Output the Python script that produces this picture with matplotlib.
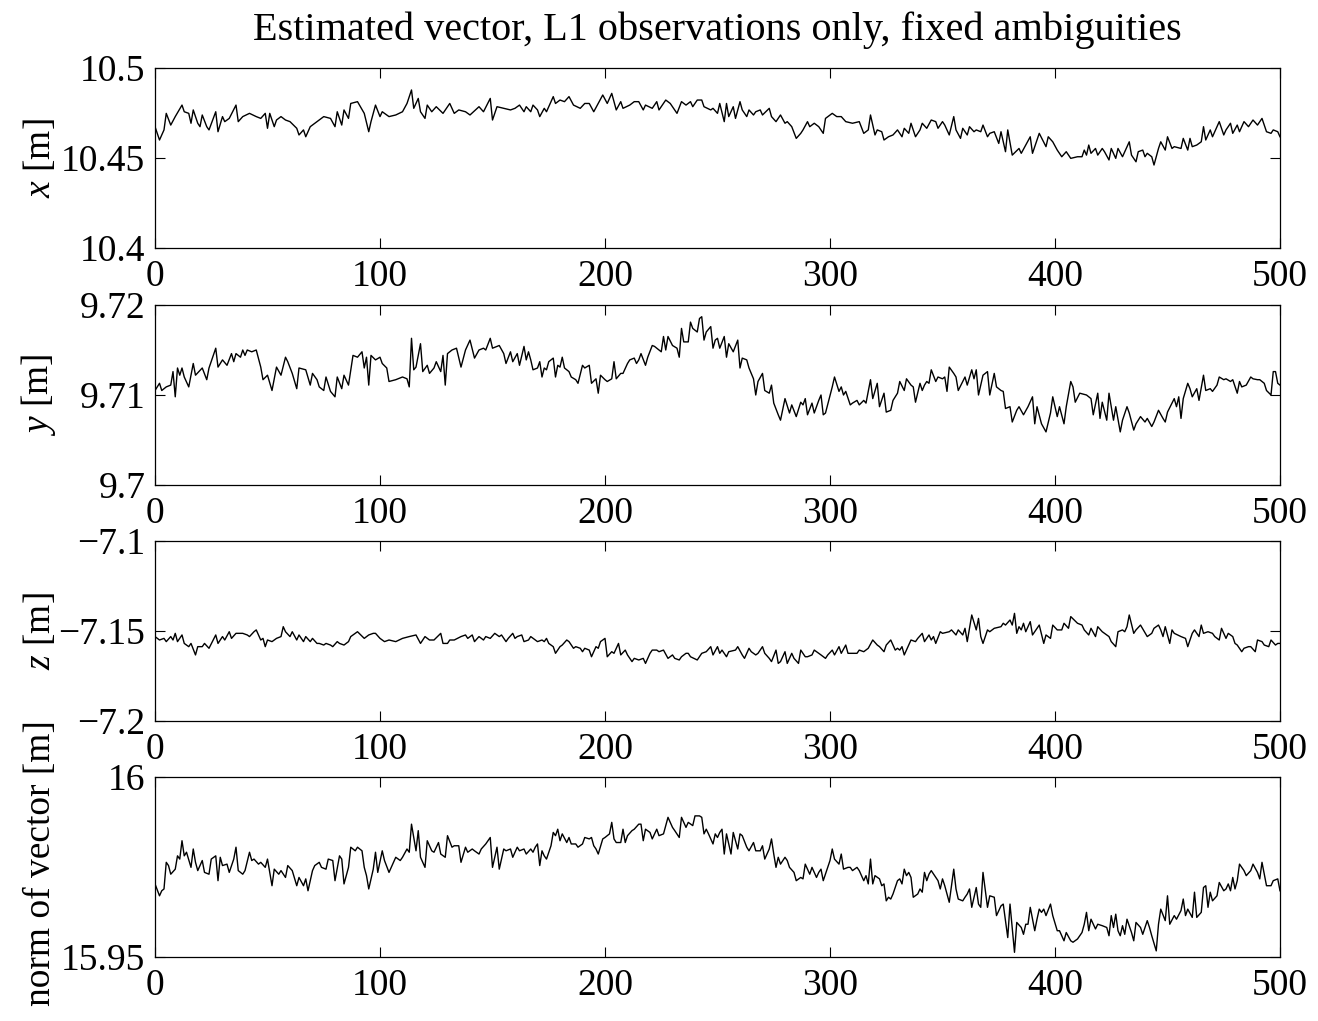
import matplotlib
matplotlib.use("Agg")
import matplotlib.pyplot as plt

# ---------------- data (epoch, value) ----------------
x_pts = [
    (0, 10.4674), (2, 10.4600), (4, 10.4656), (5, 10.4748), (7, 10.4683), (9, 10.4730), (12, 10.4794), (13, 10.4757),
    (15, 10.4748), (16, 10.4693), (17, 10.4767), (19, 10.4693), (20, 10.4674), (21, 10.4739), (23, 10.4674), (24, 10.4656),
    (27, 10.4757), (28, 10.4646), (30, 10.4730), (31, 10.4702), (33, 10.4720), (36, 10.4794), (37, 10.4702), (39, 10.4730),
    (42, 10.4748), (45, 10.4730), (47, 10.4720), (49, 10.4748), (50, 10.4665), (51, 10.4748), (53, 10.4674), (54, 10.4711),
    (56, 10.4730), (58, 10.4711), (60, 10.4702), (63, 10.4665), (64, 10.4628), (66, 10.4656), (67, 10.4618), (69, 10.4674),
    (72, 10.4702), (75, 10.4730), (78, 10.4720), (80, 10.4674), (81, 10.4757), (83, 10.4683), (84, 10.4767), (86, 10.4720),
    (87, 10.4803), (90, 10.4813), (93, 10.4748), (95, 10.4646), (96, 10.4702), (98, 10.4794), (100, 10.4730), (101, 10.4757),
    (104, 10.4730), (107, 10.4739), (110, 10.4757), (112, 10.4803), (114, 10.4878), (115, 10.4776), (117, 10.4831), (118, 10.4757),
    (120, 10.4720), (121, 10.4794), (123, 10.4757), (125, 10.4785), (128, 10.4748), (131, 10.4803), (133, 10.4748), (135, 10.4767),
    (138, 10.4757), (140, 10.4739), (144, 10.4785), (146, 10.4757), (149, 10.4831), (150, 10.4711), (152, 10.4785), (155, 10.4776),
    (158, 10.4767), (160, 10.4776), (162, 10.4794), (164, 10.4757),
    (165, 10.4785), (167, 10.4757), (168, 10.4794), (170, 10.4767), (171, 10.4730), (173, 10.4776), (174, 10.4757), (177, 10.4841),
    (178, 10.4803), (180, 10.4822), (182, 10.4813), (184, 10.4841), (186, 10.4794), (189, 10.4776), (191, 10.4803), (193, 10.4803),
    (195, 10.4757), (197, 10.4803), (199, 10.4850), (201, 10.4803), (203, 10.4859), (205, 10.4767), (207, 10.4813), (208, 10.4776),
    (211, 10.4794), (213, 10.4813), (215, 10.4813), (217, 10.4767), (218, 10.4794), (221, 10.4776), (223, 10.4813), (224, 10.4767),
    (227, 10.4822), (229, 10.4803), (232, 10.4748), (234, 10.4813), (236, 10.4794), (238, 10.4813), (239, 10.4785), (241, 10.4822),
    (243, 10.4822), (244, 10.4785), (247, 10.4767), (248, 10.4776), (250, 10.4748), (251, 10.4803), (253, 10.4702), (254, 10.4803),
    (255, 10.4730), (257, 10.4785), (258, 10.4720), (260, 10.4813), (261, 10.4767), (263, 10.4730), (264, 10.4767), (266, 10.4739),
    (267, 10.4757), (269, 10.4767), (270, 10.4739), (273, 10.4776), (274, 10.4730), (276, 10.4702), (278, 10.4739), (280, 10.4693),
    (281, 10.4702), (283, 10.4674), (285, 10.4609), (287, 10.4637), (288, 10.4656), (290, 10.4702), (291, 10.4674), (293, 10.4693),
    (295, 10.4674), (297, 10.4637), (298, 10.4720), (301, 10.4748), (303, 10.4730), (305, 10.4730), (307, 10.4702), (310, 10.4693),
    (313, 10.4702), (315, 10.4637), (317, 10.4656), (318, 10.4739), (320, 10.4628), (321, 10.4656), (323, 10.4646), (324, 10.4600),
    (326, 10.4618), (328, 10.4628), (330, 10.4656),
    (332, 10.4618), (333, 10.4665), (335, 10.4637), (336, 10.4693), (338, 10.4618), (340, 10.4656), (341, 10.4693), (343, 10.4665),
    (345, 10.4711), (347, 10.4702), (348, 10.4665), (350, 10.4702), (351, 10.4683), (353, 10.4628), (355, 10.4730), (356, 10.4656),
    (358, 10.4609), (359, 10.4665), (361, 10.4628), (362, 10.4674), (364, 10.4646), (365, 10.4656), (367, 10.4646), (368, 10.4683),
    (370, 10.4618), (371, 10.4637), (373, 10.4646), (375, 10.4581), (376, 10.4646), (378, 10.4535), (379, 10.4656), (381, 10.4516),
    (384, 10.4553), (385, 10.4526), (387, 10.4572), (389, 10.4618), (390, 10.4526), (393, 10.4637), (396, 10.4563), (397, 10.4618),
    (399, 10.4590), (401, 10.4544), (403, 10.4507), (405, 10.4535), (407, 10.4498), (410, 10.4507), (412, 10.4507), (413, 10.4544),
    (414, 10.4516), (415, 10.4572), (416, 10.4526), (418, 10.4553), (419, 10.4516), (421, 10.4553), (422, 10.4535), (424, 10.4489),
    (425, 10.4553), (427, 10.4498), (428, 10.4553), (430, 10.4507), (431, 10.4535), (433, 10.4590), (434, 10.4516), (436, 10.4479),
    (437, 10.4535), (439, 10.4544), (440, 10.4507), (441, 10.4526), (443, 10.4507), (444, 10.4461), (446, 10.4553), (447, 10.4590),
    (449, 10.4544), (450, 10.4618), (452, 10.4553), (453, 10.4563), (456, 10.4553), (457, 10.4609), (459, 10.4544), (460, 10.4609),
    (461, 10.4563), (463, 10.4572), (465, 10.4590), (466, 10.4674), (467, 10.4600), (469, 10.4656), (470, 10.4618), (473, 10.4702),
    (475, 10.4628), (476, 10.4656), (478, 10.4693), (479, 10.4637), (481, 10.4683), (482, 10.4646), (484, 10.4702), (486, 10.4674),
    (488, 10.4711), (490, 10.4683), (491, 10.4702), (492, 10.4720), (494, 10.4646), (496, 10.4637), (497, 10.4656), (499, 10.4646),
    (500, 10.4618),
]

y_pts = [
    (0, 9.7105), (2, 9.7113), (3, 9.7105), (5, 9.7109), (7, 9.7111), (8, 9.7126), (9, 9.7098), (10, 9.7130), (11, 9.7122),
    (12, 9.7130), (13, 9.7120), (15, 9.7109), (17, 9.7135), (18, 9.7122), (21, 9.7130), (23, 9.7117), (24, 9.7130), (27, 9.7152),
    (28, 9.7131), (30, 9.7139), (32, 9.7133), (34, 9.7146), (35, 9.7137), (36, 9.7146), (38, 9.7142), (39, 9.7150), (40, 9.7144),
    (41, 9.7150), (43, 9.7148), (45, 9.7150), (47, 9.7131), (48, 9.7117), (50, 9.7122), (52, 9.7105), (54, 9.7131), (56, 9.7122),
    (58, 9.7142), (59, 9.7137), (61, 9.7124), (63, 9.7107), (64, 9.7130), (67, 9.7128), (69, 9.7111), (70, 9.7124), (72, 9.7117),
    (73, 9.7109), (75, 9.7105), (76, 9.7120), (78, 9.7104), (80, 9.7098), (81, 9.7120), (83, 9.7107), (84, 9.7122), (86, 9.7111),
    (88, 9.7144), (90, 9.7142), (92, 9.7148), (93, 9.7130), (94, 9.7142), (95, 9.7111), (96, 9.7144), (98, 9.7139), (100, 9.7142),
    (101, 9.7135), (103, 9.7130), (104, 9.7115), (107, 9.7117), (108, 9.7118), (110, 9.7120), (112, 9.7118), (113, 9.7109),
    (114, 9.7163), (115, 9.7128), (116, 9.7131), (118, 9.7157), (119, 9.7126), (121, 9.7133), (122, 9.7124), (124, 9.7130),
    (125, 9.7137), (127, 9.7126), (128, 9.7144), (129, 9.7111), (130, 9.7146), (132, 9.7150), (134, 9.7152), (136, 9.7131),
    (138, 9.7150), (140, 9.7161), (142, 9.7141), (144, 9.7150), (146, 9.7152), (147, 9.7150), (149, 9.7163), (150, 9.7152),
    (153, 9.7155), (155, 9.7146), (156, 9.7135), (158, 9.7148), (159, 9.7137), (161, 9.7146), (162, 9.7133), (164, 9.7154),
    (165, 9.7139),
    (166, 9.7148), (167, 9.7139), (168, 9.7128), (170, 9.7130), (171, 9.7137), (172, 9.7120), (173, 9.7130), (174, 9.7128),
    (175, 9.7137), (177, 9.7141), (178, 9.7120), (179, 9.7133), (180, 9.7131), (181, 9.7142), (182, 9.7130), (184, 9.7126),
    (185, 9.7120), (187, 9.7117), (188, 9.7113), (190, 9.7133), (191, 9.7130), (193, 9.7133), (194, 9.7113), (196, 9.7118),
    (197, 9.7102), (198, 9.7122), (200, 9.7117), (201, 9.7115), (203, 9.7118), (204, 9.7137), (205, 9.7118), (207, 9.7124),
    (208, 9.7124), (210, 9.7135), (211, 9.7139), (213, 9.7141), (214, 9.7135), (215, 9.7139), (216, 9.7146), (218, 9.7133),
    (219, 9.7142), (221, 9.7155), (222, 9.7154), (224, 9.7150), (225, 9.7148), (226, 9.7165), (227, 9.7150), (228, 9.7165),
    (230, 9.7155), (232, 9.7152), (233, 9.7142), (234, 9.7174), (235, 9.7159), (237, 9.7159), (238, 9.7181), (239, 9.7174),
    (241, 9.7170), (242, 9.7185), (243, 9.7187), (244, 9.7161), (245, 9.7170), (247, 9.7176), (248, 9.7152), (249, 9.7161),
    (250, 9.7163), (251, 9.7152), (253, 9.7165), (254, 9.7142), (255, 9.7157), (257, 9.7148), (259, 9.7161), (260, 9.7130),
    (261, 9.7141), (263, 9.7139), (264, 9.7130), (266, 9.7118), (267, 9.7100), (268, 9.7115), (270, 9.7124), (271, 9.7105),
    (273, 9.7102), (274, 9.7111), (275, 9.7091), (277, 9.7078), (278, 9.7072), (280, 9.7096), (282, 9.7080), (283, 9.7089),
    (285, 9.7076), (287, 9.7092), (288, 9.7089), (289, 9.7096), (290, 9.7078), (292, 9.7091), (293, 9.7080), (295, 9.7094),
    (296, 9.7100), (297, 9.7078), (298, 9.7080), (301, 9.7109), (302, 9.7120), (304, 9.7104), (305, 9.7109), (306, 9.7100),
    (307, 9.7104), (309, 9.7089), (310, 9.7091), (312, 9.7094), (313, 9.7089), (315, 9.7094), (316, 9.7091), (318, 9.7117),
    (319, 9.7096), (321, 9.7113), (322, 9.7087), (324, 9.7102), (325, 9.7081), (327, 9.7083), (328, 9.7094), (330, 9.7102),
    (331, 9.7115),
    (333, 9.7105), (334, 9.7118), (336, 9.7111), (337, 9.7109), (338, 9.7092), (340, 9.7113), (341, 9.7105), (342, 9.7111),
    (343, 9.7115), (344, 9.7113), (345, 9.7128), (347, 9.7115), (348, 9.7120), (350, 9.7118), (351, 9.7120), (352, 9.7104),
    (353, 9.7131), (355, 9.7124), (356, 9.7120), (357, 9.7105), (359, 9.7115), (360, 9.7120), (361, 9.7111), (363, 9.7128),
    (364, 9.7118), (365, 9.7128), (366, 9.7100), (368, 9.7122), (370, 9.7126), (371, 9.7100), (373, 9.7124), (374, 9.7109),
    (376, 9.7105), (377, 9.7104), (378, 9.7085), (380, 9.7087), (381, 9.7070), (383, 9.7083), (384, 9.7087), (386, 9.7078),
    (388, 9.7087), (390, 9.7098), (391, 9.7068), (392, 9.7087), (394, 9.7068), (396, 9.7059), (398, 9.7080), (399, 9.7098),
    (401, 9.7076), (402, 9.7087), (404, 9.7068), (405, 9.7087), (407, 9.7115), (408, 9.7109), (409, 9.7092), (411, 9.7102),
    (414, 9.7100), (416, 9.7096), (417, 9.7078), (419, 9.7102), (420, 9.7074), (421, 9.7092), (423, 9.7072), (424, 9.7102),
    (426, 9.7072), (427, 9.7087), (429, 9.7059), (430, 9.7072), (432, 9.7087), (433, 9.7080), (435, 9.7061), (436, 9.7068),
    (438, 9.7076), (440, 9.7070), (441, 9.7074), (443, 9.7065), (444, 9.7070), (446, 9.7083), (448, 9.7074), (449, 9.7070),
    (450, 9.7081), (452, 9.7091), (453, 9.7096), (454, 9.7087), (455, 9.7098), (456, 9.7074), (457, 9.7096), (459, 9.7113),
    (460, 9.7107), (461, 9.7098), (463, 9.7107), (464, 9.7094), (466, 9.7122), (467, 9.7105), (469, 9.7107), (470, 9.7104),
    (472, 9.7111), (473, 9.7120), (475, 9.7117), (476, 9.7118), (478, 9.7115), (479, 9.7117), (481, 9.7102), (482, 9.7115),
    (483, 9.7109), (485, 9.7111), (487, 9.7120), (488, 9.7118), (490, 9.7117), (491, 9.7117), (493, 9.7113), (494, 9.7105),
    (496, 9.7100), (497, 9.7126), (498, 9.7126), (499, 9.7113), (500, 9.7111),
]

z_pts = [
    (0, -7.1531), (2, -7.1550), (4, -7.1541), (5, -7.1559), (7, -7.1531), (8, -7.1550), (9, -7.1513), (10, -7.1559),
    (12, -7.1522), (13, -7.1569), (15, -7.1587), (16, -7.1569), (18, -7.1633), (19, -7.1587), (21, -7.1587), (22, -7.1569),
    (24, -7.1596), (27, -7.1522), (28, -7.1569), (30, -7.1531), (31, -7.1550), (33, -7.1504), (34, -7.1541), (36, -7.1513),
    (38, -7.1513), (39, -7.1513), (41, -7.1522), (42, -7.1531), (44, -7.1504), (45, -7.1494), (47, -7.1550), (48, -7.1541),
    (49, -7.1587), (50, -7.1550), (52, -7.1559), (54, -7.1541), (56, -7.1531), (57, -7.1476), (58, -7.1504), (60, -7.1531),
    (61, -7.1504), (63, -7.1550), (64, -7.1522), (66, -7.1559), (67, -7.1531), (69, -7.1559), (70, -7.1541), (72, -7.1569),
    (73, -7.1569), (75, -7.1578), (76, -7.1569), (78, -7.1578), (79, -7.1587), (81, -7.1559), (82, -7.1569), (84, -7.1578),
    (86, -7.1559), (87, -7.1531), (89, -7.1513), (90, -7.1504), (93, -7.1541), (95, -7.1522), (97, -7.1513), (98, -7.1513),
    (100, -7.1541), (102, -7.1559), (104, -7.1550), (107, -7.1559), (110, -7.1541), (113, -7.1531), (116, -7.1522), (118, -7.1569),
    (120, -7.1531), (122, -7.1550), (124, -7.1550), (127, -7.1513), (128, -7.1569), (130, -7.1569), (131, -7.1550), (133, -7.1550),
    (136, -7.1531), (138, -7.1522), (139, -7.1541), (141, -7.1522), (142, -7.1559), (144, -7.1531), (146, -7.1550), (147, -7.1531),
    (149, -7.1541), (151, -7.1513), (153, -7.1531), (154, -7.1522), (156, -7.1559), (157, -7.1541), (159, -7.1513), (160, -7.1541),
    (161, -7.1531), (163, -7.1522), (164, -7.1559), (166, -7.1550),
    (167, -7.1531), (169, -7.1550), (170, -7.1559), (172, -7.1550), (173, -7.1559), (174, -7.1541), (175, -7.1569), (177, -7.1587),
    (178, -7.1624), (180, -7.1587), (181, -7.1578), (183, -7.1550), (184, -7.1559), (186, -7.1596), (187, -7.1587), (189, -7.1596),
    (190, -7.1615), (191, -7.1596), (193, -7.1606), (194, -7.1643), (196, -7.1587), (197, -7.1596), (198, -7.1559), (200, -7.1541),
    (201, -7.1643), (203, -7.1615), (204, -7.1624), (206, -7.1569), (207, -7.1633), (209, -7.1606), (210, -7.1633), (212, -7.1670),
    (213, -7.1652), (215, -7.1661), (217, -7.1652), (218, -7.1680), (220, -7.1624), (221, -7.1606), (223, -7.1606), (224, -7.1615),
    (226, -7.1606), (228, -7.1652), (230, -7.1633), (231, -7.1652), (233, -7.1661), (234, -7.1643), (236, -7.1624), (237, -7.1624),
    (238, -7.1643), (241, -7.1661), (243, -7.1624), (245, -7.1615), (247, -7.1587), (248, -7.1633), (250, -7.1587), (251, -7.1624),
    (252, -7.1606), (254, -7.1643), (255, -7.1615), (258, -7.1606), (259, -7.1587), (261, -7.1633), (262, -7.1652), (264, -7.1596),
    (265, -7.1615), (267, -7.1633), (268, -7.1624), (270, -7.1587), (271, -7.1624), (273, -7.1652), (274, -7.1670), (276, -7.1606),
    (277, -7.1680), (278, -7.1670), (280, -7.1615), (281, -7.1680), (283, -7.1624), (284, -7.1652), (286, -7.1680), (287, -7.1606),
    (289, -7.1643), (290, -7.1643), (292, -7.1633), (293, -7.1606), (295, -7.1624), (296, -7.1633), (298, -7.1652), (299, -7.1633),
    (301, -7.1606), (302, -7.1633), (304, -7.1587), (305, -7.1624), (307, -7.1578), (308, -7.1624), (310, -7.1624), (312, -7.1624),
    (313, -7.1606), (315, -7.1615), (317, -7.1596), (319, -7.1550), (321, -7.1578), (322, -7.1587), (324, -7.1615), (325, -7.1578),
    (327, -7.1550), (329, -7.1606), (330, -7.1596),
    (331, -7.1606), (332, -7.1587), (333, -7.1633), (335, -7.1578), (336, -7.1550), (338, -7.1559), (339, -7.1541), (341, -7.1513),
    (342, -7.1559), (344, -7.1522), (345, -7.1550), (346, -7.1531), (347, -7.1569), (349, -7.1504), (350, -7.1513), (353, -7.1504),
    (354, -7.1494), (356, -7.1522), (357, -7.1494), (359, -7.1522), (360, -7.1485), (361, -7.1559), (363, -7.1411), (365, -7.1494),
    (366, -7.1430), (367, -7.1531), (368, -7.1569), (370, -7.1494), (371, -7.1504), (373, -7.1485), (376, -7.1476), (377, -7.1457),
    (378, -7.1467), (380, -7.1439), (381, -7.1467), (382, -7.1402), (383, -7.1513), (384, -7.1476), (385, -7.1494), (386, -7.1457),
    (387, -7.1504), (389, -7.1448), (390, -7.1522), (392, -7.1485), (393, -7.1467), (395, -7.1569), (396, -7.1522), (398, -7.1541),
    (399, -7.1467), (401, -7.1494), (403, -7.1494), (404, -7.1457), (406, -7.1485), (407, -7.1420), (410, -7.1457), (412, -7.1467),
    (413, -7.1494), (415, -7.1522), (416, -7.1485), (418, -7.1531), (419, -7.1476), (421, -7.1504), (424, -7.1531), (425, -7.1559),
    (427, -7.1587), (428, -7.1504), (430, -7.1494), (431, -7.1504), (432, -7.1476), (433, -7.1411), (435, -7.1513), (436, -7.1494),
    (438, -7.1467), (441, -7.1531), (443, -7.1513), (444, -7.1485), (446, -7.1467), (447, -7.1494), (448, -7.1531), (449, -7.1476),
    (451, -7.1569), (452, -7.1494), (453, -7.1513), (456, -7.1531), (458, -7.1541), (459, -7.1587), (461, -7.1513), (462, -7.1494),
    (464, -7.1531), (465, -7.1467), (466, -7.1513), (468, -7.1504), (470, -7.1513), (471, -7.1531), (473, -7.1550), (474, -7.1485),
    (476, -7.1541), (477, -7.1513), (479, -7.1531), (480, -7.1569), (481, -7.1578), (483, -7.1615), (484, -7.1596), (486, -7.1587),
    (487, -7.1587), (489, -7.1615), (490, -7.1550), (492, -7.1559), (493, -7.1578), (495, -7.1587), (496, -7.1550), (498, -7.1578),
    (499, -7.1569), (500, -7.1569),
]

norm_pts = [
    (0, 15.9703), (2, 15.9670), (3, 15.9684), (4, 15.9689), (5, 15.9763), (6, 15.9754), (7, 15.9730), (9, 15.9744),
    (10, 15.9781), (11, 15.9772), (12, 15.9823), (13, 15.9781), (14, 15.9791), (16, 15.9749), (17, 15.9800), (18, 15.9763),
    (19, 15.9740), (21, 15.9768), (22, 15.9735), (24, 15.9730), (25, 15.9772), (27, 15.9781), (28, 15.9712), (29, 15.9777),
    (30, 15.9754), (32, 15.9758), (33, 15.9735), (35, 15.9772), (36, 15.9805), (37, 15.9740), (39, 15.9730), (40, 15.9740),
    (42, 15.9791), (43, 15.9768), (44, 15.9772), (46, 15.9758), (47, 15.9763), (49, 15.9749), (50, 15.9772), (52, 15.9698),
    (53, 15.9744), (55, 15.9730), (56, 15.9740), (58, 15.9721), (59, 15.9754), (61, 15.9740), (63, 15.9698), (64, 15.9721),
    (66, 15.9698), (67, 15.9717), (68, 15.9684), (70, 15.9740), (71, 15.9754), (73, 15.9763), (74, 15.9749), (76, 15.9744),
    (77, 15.9772), (79, 15.9768), (80, 15.9712), (82, 15.9781), (83, 15.9772), (84, 15.9703), (86, 15.9749), (87, 15.9805),
    (89, 15.9795), (90, 15.9805), (92, 15.9795), (93, 15.9749), (94, 15.9726), (95, 15.9689), (97, 15.9744), (98, 15.9791),
    (99, 15.9735), (101, 15.9795), (102, 15.9768), (104, 15.9735), (106, 15.9763), (107, 15.9777), (109, 15.9768), (110, 15.9777),
    (112, 15.9800), (113, 15.9791), (114, 15.9869), (116, 15.9795), (117, 15.9851), (118, 15.9777), (120, 15.9749), (121, 15.9823),
    (123, 15.9795), (124, 15.9791), (126, 15.9818), (127, 15.9786), (129, 15.9777), (130, 15.9837), (132, 15.9805), (133, 15.9809),
    (135, 15.9809), (136, 15.9763), (138, 15.9805), (139, 15.9791), (141, 15.9800), (142, 15.9795), (144, 15.9786), (145, 15.9800),
    (147, 15.9814), (149, 15.9832), (150, 15.9749), (152, 15.9805), (153, 15.9744), (155, 15.9800), (156, 15.9795), (158, 15.9800),
    (159, 15.9777), (161, 15.9805), (162, 15.9795), (164, 15.9800), (165, 15.9786),
    (167, 15.9800), (168, 15.9791), (169, 15.9805), (170, 15.9814), (171, 15.9754), (172, 15.9795), (173, 15.9781), (174, 15.9772),
    (176, 15.9809), (177, 15.9846), (178, 15.9837), (179, 15.9855), (180, 15.9823), (181, 15.9842), (183, 15.9818), (184, 15.9832),
    (185, 15.9814), (187, 15.9814), (188, 15.9805), (190, 15.9814), (191, 15.9832), (193, 15.9828), (194, 15.9832), (195, 15.9809),
    (196, 15.9800), (197, 15.9786), (199, 15.9828), (200, 15.9832), (202, 15.9842), (203, 15.9874), (204, 15.9828), (205, 15.9818),
    (207, 15.9818), (208, 15.9855), (209, 15.9818), (210, 15.9837), (212, 15.9851), (213, 15.9855), (215, 15.9869), (216, 15.9869),
    (217, 15.9823), (218, 15.9855), (220, 15.9846), (221, 15.9828), (223, 15.9855), (224, 15.9837), (226, 15.9842), (227, 15.9865),
    (228, 15.9888), (230, 15.9860), (231, 15.9851), (233, 15.9832), (234, 15.9888), (236, 15.9860), (237, 15.9874), (239, 15.9865),
    (240, 15.9892), (242, 15.9892), (243, 15.9888), (244, 15.9842), (245, 15.9855), (246, 15.9842), (248, 15.9814), (249, 15.9842),
    (250, 15.9832), (251, 15.9846), (252, 15.9855), (253, 15.9786), (254, 15.9842), (256, 15.9786), (257, 15.9846), (259, 15.9800),
    (260, 15.9842), (261, 15.9837), (263, 15.9805), (264, 15.9795), (266, 15.9818), (267, 15.9795), (269, 15.9795), (270, 15.9809),
    (271, 15.9772), (273, 15.9800), (274, 15.9828), (275, 15.9786), (276, 15.9749), (277, 15.9777), (278, 15.9758), (280, 15.9777),
    (281, 15.9768), (282, 15.9749), (284, 15.9735), (285, 15.9712), (287, 15.9721), (288, 15.9717), (289, 15.9758), (291, 15.9730),
    (292, 15.9749), (294, 15.9721), (295, 15.9735), (296, 15.9744), (297, 15.9712), (299, 15.9749), (300, 15.9768), (301, 15.9800),
    (302, 15.9772), (304, 15.9758), (305, 15.9786), (306, 15.9744), (308, 15.9749), (309, 15.9749), (310, 15.9740), (312, 15.9749),
    (313, 15.9740), (315, 15.9712), (316, 15.9726), (317, 15.9703), (318, 15.9772), (319, 15.9703), (320, 15.9726), (322, 15.9717),
    (323, 15.9698), (324, 15.9703), (325, 15.9656), (326, 15.9666), (327, 15.9661), (328, 15.9675), (330, 15.9712), (331, 15.9717),
    (332, 15.9703), (333, 15.9744), (334, 15.9726), (335, 15.9735), (336, 15.9721), (337, 15.9666), (339, 15.9675), (340, 15.9689),
    (341, 15.9680), (342, 15.9735), (343, 15.9712), (344, 15.9730), (345, 15.9740), (347, 15.9721), (348, 15.9712), (349, 15.9689),
    (350, 15.9717), (351, 15.9698), (353, 15.9652), (355, 15.9744), (356, 15.9689), (357, 15.9661), (359, 15.9656), (360, 15.9666),
    (361, 15.9675), (362, 15.9689), (363, 15.9638), (365, 15.9693), (366, 15.9647), (367, 15.9638), (368, 15.9735), (370, 15.9638),
    (371, 15.9670), (373, 15.9666), (374, 15.9615), (376, 15.9642), (377, 15.9647), (379, 15.9554), (380, 15.9647), (382, 15.9513),
    (383, 15.9596), (385, 15.9582), (386, 15.9563), (387, 15.9591), (388, 15.9591), (389, 15.9638), (391, 15.9573), (392, 15.9605),
    (393, 15.9633), (394, 15.9624), (395, 15.9633), (396, 15.9615), (398, 15.9647), (399, 15.9615), (401, 15.9573), (402, 15.9573),
    (404, 15.9545), (405, 15.9568), (407, 15.9545), (408, 15.9541), (410, 15.9550), (412, 15.9568), (413, 15.9591), (414, 15.9624),
    (415, 15.9573), (416, 15.9605), (418, 15.9578), (419, 15.9591), (421, 15.9587), (423, 15.9582), (424, 15.9559), (425, 15.9615),
    (426, 15.9582), (427, 15.9619), (428, 15.9573), (429, 15.9559), (430, 15.9587), (431, 15.9563), (432, 15.9605), (434, 15.9568),
    (435, 15.9545), (436, 15.9596), (438, 15.9582), (439, 15.9563), (441, 15.9601), (442, 15.9582), (443, 15.9559), (445, 15.9517),
    (446, 15.9591), (447, 15.9633), (449, 15.9601), (450, 15.9670), (451, 15.9591), (453, 15.9615), (454, 15.9605), (456, 15.9629),
    (457, 15.9661), (458, 15.9615), (459, 15.9633), (461, 15.9610), (462, 15.9680), (463, 15.9610), (465, 15.9624), (466, 15.9693),
    (467, 15.9698), (468, 15.9638), (469, 15.9680), (470, 15.9656), (472, 15.9670), (473, 15.9707), (475, 15.9684), (476, 15.9689),
    (477, 15.9703), (478, 15.9684), (479, 15.9721), (480, 15.9689), (481, 15.9712), (482, 15.9758), (484, 15.9740), (485, 15.9726),
    (487, 15.9740), (488, 15.9758), (490, 15.9735), (491, 15.9717), (492, 15.9763), (494, 15.9698), (496, 15.9698), (497, 15.9712),
    (499, 15.9717), (500, 15.9684),
]

x_ticks = [0, 100, 200, 300, 400, 500]
x_ticklabels = ["0", "100", "200", "300", "400", "500"]

ylims = [(10.4, 10.5), (9.70, 9.72), (-7.2, -7.1), (15.95, 16.0)]
yticks = [[10.4, 10.45, 10.5], [9.70, 9.71, 9.72], [-7.2, -7.15, -7.1], [15.95, 16.0]]
yticklabels = [["10.4", "10.45", "10.5"], ["9.7", "9.71", "9.72"],
               ["\u22127.2", "\u22127.15", "\u22127.1"], ["15.95", "16"]]
ylabels = [r"$x$ [m]", r"$y$ [m]", r"$z$ [m]", "norm of vector [m]"]
title = "Estimated vector, L1 observations only, fixed ambiguities"

# ---------------- figure ----------------
plt.rcParams["font.family"] = ["Liberation Serif", "DejaVu Serif"]
plt.rcParams["mathtext.fontset"] = "custom"
plt.rcParams["mathtext.it"] = "Liberation Serif:italic"
plt.rcParams["mathtext.rm"] = "Liberation Serif"

W, H = 1318, 1021
fig = plt.figure(figsize=(W / 100, H / 100), dpi=100)
fig.patch.set_facecolor("white")

left_px, right_px = 155, 1280
tops_px = [68, 305, 541, 777]
height_px = 180

series = [x_pts, y_pts, z_pts, norm_pts]
for i, pts in enumerate(series):
    top = tops_px[i]
    ax = fig.add_axes([left_px / W, 1 - (top + height_px) / H,
                       (right_px - left_px) / W, height_px / H])
    ep = [p[0] for p in pts]
    val = [p[1] for p in pts]
    ax.plot(ep, val, color="black", lw=1.0)
    ax.set_xlim(0, 500)
    ax.set_ylim(*ylims[i])
    ax.set_xticks(x_ticks)
    ax.set_xticklabels(x_ticklabels)
    ax.set_yticks(yticks[i])
    ax.set_yticklabels(yticklabels[i])
    ax.tick_params(axis="both", direction="in", length=7, width=0.8,
                   top=True, right=True, labelsize=27, colors="black")
    ax.tick_params(axis="x", pad=8)
    ax.tick_params(axis="y", pad=7)
    for s in ax.spines.values():
        s.set_linewidth(0.9)
    ax.set_ylabel(ylabels[i], fontsize=27)
    ax.yaxis.set_label_coords(-0.086, 0.5 if i < 3 else 0.52)

fig.text((left_px + right_px) / 2 / W, 1 - 30 / H, title,
         ha="center", va="center", fontsize=29)

fig.savefig("out.png", dpi=100)
